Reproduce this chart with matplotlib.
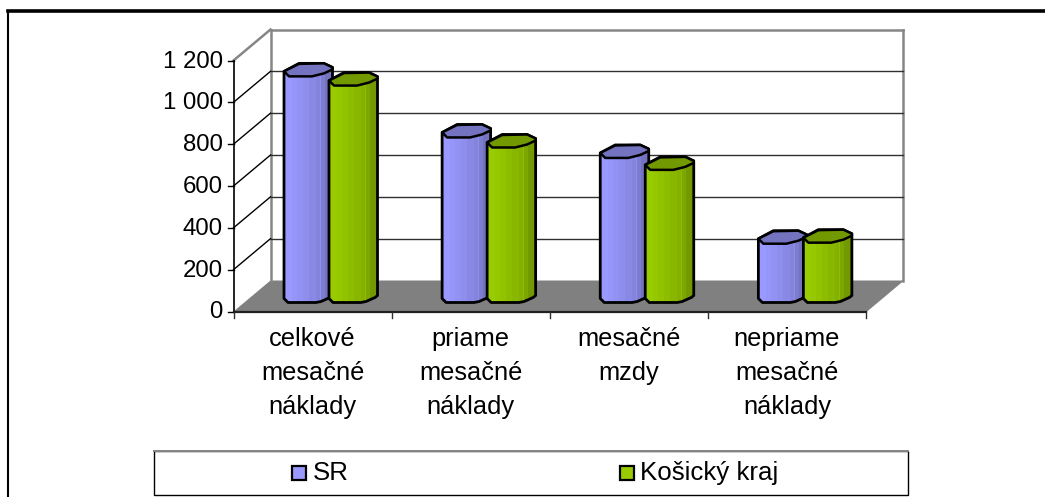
#!/usr/bin/env python3
"""Pseudo-3D octagonal column chart, drawn on a pixel-sized axes."""
import numpy as np
import matplotlib
matplotlib.use('Agg')
import matplotlib.pyplot as plt
from matplotlib.patches import Polygon, Rectangle

categories = ['celkové\nmesačné\nnáklady', 'priame\nmesačné\nnáklady', 'mesačné\nmzdy', 'nepriame\nmesačné\nnáklady']
sr_values = [1105, 813, 715, 305]
kosice_values = [1061, 765, 658, 310]
y_ticks = [0, 200, 400, 600, 800, 1000, 1200]
y_tick_labels = ['0', '200', '400', '600', '800', '1 000', '1 200']
series_names = ['SR', 'Košický kraj']

plt.rcParams['font.family'] = ['Liberation Sans', 'DejaVu Sans']

W, H = 1045, 497
FRONT_X0, FRONT_X1, FRONT_Y0, FRONT_Y_TOP = 233.5, 866.0, 311.5, 60.5
BACK_X0, BACK_X1, BACK_Y0, BACK_Y_TOP = 270.5, 903.0, 280.5, 29.5
AXIS_MAX = 1200
GREY = '#868686'


def front_y(v):
    return FRONT_Y0 - v / AXIS_MAX * (FRONT_Y0 - FRONT_Y_TOP)


def back_y(v):
    return BACK_Y0 - v / AXIS_MAX * (BACK_Y0 - BACK_Y_TOP)


def draw_column(ax, x0, value, light, dark, top, z):
    """One column: x0 is the left edge of the front face, value sets its height."""
    base = 302.5
    ytop = base - value / AXIS_MAX * (FRONT_Y0 - FRONT_Y_TOP)
    outline = [(x0, ytop), (x0, base - 4), (x0 + 4, base), (x0 + 32, base), (x0 + 37, base - 1),
               (x0 + 46, base - 5), (x0 + 48.5, base - 7), (x0 + 48.5, ytop - 2), (x0 + 48.5, ytop - 4),
               (x0 + 40, ytop - 8), (x0 + 15, ytop - 8)]
    body = Polygon(outline, closed=True, facecolor=light, edgecolor='none', zorder=z)
    ax.add_patch(body)

    # vertical facet bands that darken to the right
    edges = np.array([0, 8, 13, 19, 25, 32, 36, 37, 41, 49])
    shades = [0.0, 0.08, 0.18, 0.3, 0.42, 0.55, 0.3, 0.75, 1.0]
    light_rgb = np.array(matplotlib.colors.to_rgb(light))
    dark_rgb = np.array(matplotlib.colors.to_rgb(dark))
    for left, right, s in zip(edges[:-1], edges[1:], shades):
        strip = Rectangle((x0 + left, ytop - 12), right - left, base - ytop + 14,
                          facecolor=light_rgb + (dark_rgb - light_rgb) * s, edgecolor='none', zorder=z)
        ax.add_patch(strip)
        strip.set_clip_path(body)

    ax.add_patch(Polygon(outline, closed=True, fill=False, edgecolor='black', linewidth=2.0,
                         joinstyle='round', zorder=z + 0.2))
    lid = [(x0, ytop), (x0 + 15, ytop - 7.5), (x0 + 40, ytop - 8), (x0 + 48.5, ytop - 4), (x0 + 48.5, ytop - 2),
           (x0 + 40, ytop + 2), (x0 + 28, ytop + 5), (x0 + 5, ytop + 5)]
    ax.add_patch(Polygon(lid, closed=True, facecolor=top, edgecolor='black', linewidth=1.8,
                         joinstyle='round', zorder=z + 0.3))


def main():
    fig = plt.figure(figsize=(W / 100, H / 100), dpi=100)
    ax = fig.add_axes([0, 0, 1, 1])
    ax.set_xlim(0, W)
    ax.set_ylim(H, 0)
    ax.axis('off')

    # outer frame: only left and top edges are in the crop
    ax.plot([8, 8], [H, 11], color='black', linewidth=1.5, zorder=1)
    ax.plot([8, W], [11, 11], color='black', linewidth=2.6, zorder=1)

    # floor
    ax.add_patch(Polygon([(FRONT_X0, FRONT_Y0), (BACK_X0, BACK_Y0), (BACK_X1, BACK_Y0), (FRONT_X1, FRONT_Y0)],
                         closed=True, facecolor='#808080', edgecolor='none', zorder=2))

    # walls and grid
    ax.plot([BACK_X0, BACK_X0], [BACK_Y0, BACK_Y_TOP], color=GREY, linewidth=1.8, zorder=2)
    ax.plot([BACK_X1, BACK_X1], [BACK_Y0, BACK_Y_TOP], color=GREY, linewidth=1.8, zorder=2)
    ax.plot([BACK_X0, BACK_X1], [BACK_Y_TOP, BACK_Y_TOP], color=GREY, linewidth=1.8, zorder=2)
    ax.plot([FRONT_X0, BACK_X0], [FRONT_Y_TOP, BACK_Y_TOP], color=GREY, linewidth=1.8, zorder=2)
    ax.plot([FRONT_X1, BACK_X1], [FRONT_Y0, BACK_Y0], color='#808080', linewidth=1.0, zorder=2)
    for v in y_ticks[1:-1]:
        ax.plot([BACK_X0, BACK_X1], [back_y(v), back_y(v)], color='#303030', linewidth=1.0, zorder=2)
        ax.plot([FRONT_X0, BACK_X0], [front_y(v), back_y(v)], color='black', linewidth=1.0, zorder=2)

    # front axes and ticks
    ax.plot([FRONT_X0, FRONT_X0], [FRONT_Y_TOP, FRONT_Y0], color='black', linewidth=1.2, zorder=3)
    ax.plot([FRONT_X0, FRONT_X1], [FRONT_Y0, FRONT_Y0], color='#202020', linewidth=1.6, zorder=3)
    for v, label in zip(y_ticks, y_tick_labels):
        ax.plot([FRONT_X0 - 6, FRONT_X0], [front_y(v), front_y(v)], color='black', linewidth=1.0, zorder=3)
        ax.text(223, front_y(v) + 1, label, ha='right', va='center', fontsize=17.3, color='black')

    step = (FRONT_X1 - FRONT_X0) / len(categories)
    for i in range(len(categories) + 1):
        x = FRONT_X0 + i * step
        ax.plot([x, x], [FRONT_Y0, FRONT_Y0 + 6], color='#303030', linewidth=1.0, zorder=3)

    # columns
    for i, label in enumerate(categories):
        x0 = FRONT_X0 + i * step + 50.5
        draw_column(ax, x0, sr_values[i], '#9999FF', '#7373C0', '#7373BF', 4 + i)
        draw_column(ax, x0 + 45, kosice_values[i], '#99CC00', '#739900', '#739900', 4.5 + i)
        ax.text(FRONT_X0 + (i + 0.5) * step, 327, label, ha='center', va='top', fontsize=18.3,
                linespacing=1.52, color='black')

    # legend
    ax.add_patch(Rectangle((154, 451), 754, 44, facecolor='white', edgecolor='black', linewidth=1.0, zorder=3))
    ax.plot([154, 908], [451, 451], color=GREY, linewidth=1.4, zorder=3.5)
    for x, color, name in zip([291.5, 619.5], ['#9999FF', '#99CC00'], series_names):
        ax.add_patch(Rectangle((x, 466), 14, 14, facecolor=color, edgecolor='black', linewidth=1.6, zorder=4))
        ax.text(x + 21, 473, name, ha='left', va='center', fontsize=18.6, color='black', zorder=4)

    fig.savefig('out.png', dpi=100)


if __name__ == '__main__':
    main()
